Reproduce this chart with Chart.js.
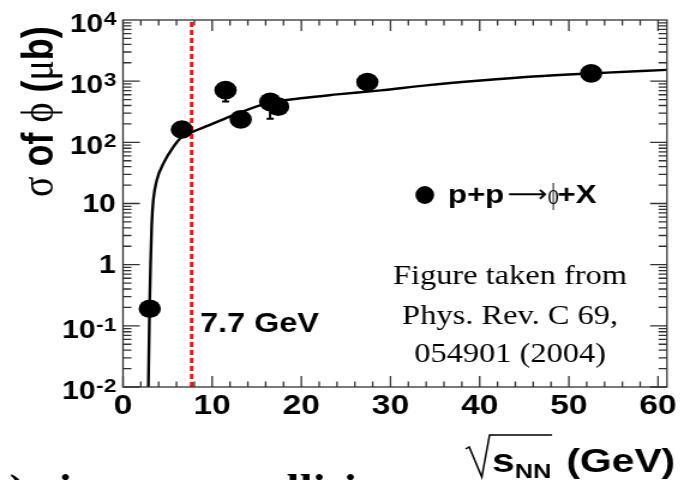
<!DOCTYPE html>
<html>
<head>
<meta charset="utf-8">
<script src="https://cdn.jsdelivr.net/npm/chart.js@4.4.0/dist/chart.umd.min.js"></script>
<style>
  html, body { margin: 0; padding: 0; background: #fff; overflow: hidden; }
  /* the original figure is stretched sideways, so the whole canvas is too */
  #wrap { width: 576px; height: 480px; transform: scaleX(1.2); transform-origin: 0 0; }
</style>
</head>
<body>
<div id="wrap"><canvas id="phiChart" width="576" height="480"></canvas></div>
<script>
// p+p -> phi + X cross section (ub) vs sqrt(s_NN) (GeV)
const ppX = [3.0, 6.6, 11.5, 13.2, 16.5, 17.4, 27.4, 52.5];
const ppY = [0.19, 162, 713, 237, 459, 383, 970, 1340];
const ppErr = [0, 0, 250, 0, 215, 0, 0, 0];

// fit curve
const fitX = [2.84, 2.98, 3.09, 3.22, 3.40, 3.79, 4.53, 5.65, 6.6, 7.75, 10, 12.4, 16.2, 19.9, 24, 28.9, 34, 40.1, 46, 52.5, 61];
const fitY = [0.01, 0.19, 1, 4.5, 11.4, 24.1, 45.2, 84.3, 123, 147, 200, 278, 436, 525, 607, 708, 853, 1023, 1189, 1340, 1530];

const cutEnergy = 7.7;
const xTicks = [0, 10, 20, 30, 40, 50, 60];
const xMinorStep = 2;
const yTickValues = [0.01, 0.1, 1, 10, 100, 1000, 10000];
const yTickLabels = [["10", "-2"], ["10", "-1"], ["1", ""], ["10", ""], ["10", "2"], ["10", "3"], ["10", "4"]];

const SANS = '"Liberation Sans", Arial, sans-serif';
const SERIF = '"Liberation Serif", "DejaVu Serif", serif';

const xy = (xs, ys) => xs.map((x, i) => ({ x: x, y: ys[i] }));

// draw text pieces one after another
const drawRun = (ctx, parts, x, y) => {
  ctx.textAlign = "left";
  ctx.textBaseline = "alphabetic";
  parts.forEach(([txt, font]) => {
    ctx.font = font;
    ctx.fillText(txt, x, y);
    x += ctx.measureText(txt).width;
  });
};

// text squeezed / stretched so its ink spans a given width
const fitText = (ctx, txt, font, x, y, w) => {
  ctx.font = font;
  const m = ctx.measureText(txt);
  const ink = m.actualBoundingBoxLeft + m.actualBoundingBoxRight;
  const k = w / ink;
  ctx.save();
  ctx.translate(x, y);
  ctx.scale(k, 1);
  ctx.textAlign = "left";
  ctx.fillText(txt, m.actualBoundingBoxLeft, 0);
  ctx.restore();
};

const decor = {
  id: "decor",
  beforeDatasetsDraw(chart) {
    const ctx = chart.ctx, xs = chart.scales.x, ys = chart.scales.y;
    ctx.save();
    ctx.strokeStyle = "#000";
    ctx.lineWidth = 2;
    ppX.forEach((x, i) => {
      if (!ppErr[i]) return;
      const px = xs.getPixelForValue(x);
      const lo = ys.getPixelForValue(ppY[i] - ppErr[i]);
      ctx.beginPath();
      ctx.moveTo(px, ys.getPixelForValue(ppY[i]));
      ctx.lineTo(px, lo);
      ctx.moveTo(px - 3, lo);
      ctx.lineTo(px + 3, lo);
      ctx.stroke();
    });
    ctx.restore();
  },
  afterDraw(chart) {
    const ctx = chart.ctx, xs = chart.scales.x, ys = chart.scales.y;
    const { left, right, top, bottom } = chart.chartArea;
    ctx.save();

    // frame + ROOT style ticks on all four sides
    ctx.strokeStyle = "#333";
    ctx.lineWidth = 1.3;
    ctx.strokeRect(left, top, right - left, bottom - top);
    ctx.beginPath();
    for (let v = 0; v <= xs.max; v += xMinorStep) {
      const px = xs.getPixelForValue(v);
      const len = v % 10 === 0 ? 11 : 5.5;
      ctx.moveTo(px, bottom); ctx.lineTo(px, bottom - len);
      ctx.moveTo(px, top); ctx.lineTo(px, top + len);
    }
    for (let d = -2; d <= 3; d++) {
      for (let m = 1; m <= 9; m++) {
        const py = ys.getPixelForValue(m * Math.pow(10, d));
        const len = m === 1 ? 14 : 7;
        ctx.moveTo(left, py); ctx.lineTo(left + len, py);
        ctx.moveTo(right, py); ctx.lineTo(right - len, py);
      }
    }
    ctx.stroke();

    // y tick labels with superscripts
    ctx.fillStyle = "#000";
    const baseFont = "bold 25px " + SANS, supFont = "bold 19px " + SANS;
    yTickValues.forEach((v, i) => {
      const [base, sup] = yTickLabels[i];
      const py = ys.getPixelForValue(v);
      ctx.font = supFont;
      const sw = sup ? ctx.measureText(sup).width : 0;
      const rx = 96.5;
      const by = py + 8.8 + (sup ? 3 : 0);
      ctx.font = baseFont;
      ctx.textAlign = "right";
      ctx.textBaseline = "alphabetic";
      ctx.fillText(base, rx - sw, by);
      if (sup) {
        ctx.font = supFont;
        ctx.textAlign = "left";
        ctx.fillText(sup, rx - sw + 0.5, by - 7);
      }
    });

    // y axis title
    ctx.save();
    ctx.translate(44, 197);
    ctx.rotate(-Math.PI / 2);
    drawRun(ctx, [
      ["σ", "38px " + SERIF], [" of ", "bold 36px " + SANS], ["ϕ", "38px " + SERIF],
      [" (", "bold 36px " + SANS], ["μ", "38px " + SERIF], ["b)", "bold 36px " + SANS]
    ], 0, 0);
    ctx.restore();

    // x axis title: sqrt(s_NN) (GeV)
    ctx.lineWidth = 1.5;
    ctx.strokeStyle = "#000";
    ctx.beginPath();
    ctx.moveTo(388, 449); ctx.lineTo(391, 447); ctx.lineTo(401.5, 477);
    ctx.lineTo(408, 435); ctx.lineTo(460, 435);
    ctx.stroke();
    ctx.textAlign = "left";
    ctx.font = "bold 34px " + SANS;
    ctx.fillText("s", 410, 472);
    ctx.font = "bold 21px " + SANS;
    ctx.fillText("NN", 429, 478);
    ctx.font = "bold 34px " + SANS;
    ctx.fillText("(GeV)", 472, 472);

    // legend
    ctx.beginPath();
    ctx.ellipse(354, 195, 7.8, 9, 0, 0, Math.PI * 2);
    ctx.fill();
    ctx.font = "bold 26px " + SANS;
    ctx.fillText("p+p", 373.3, 203);
    fitText(ctx, "⟶", '24px "DejaVu Sans", sans-serif', 424, 202, 32);
    fitText(ctx, "ϕ", "29px " + SERIF, 456.5, 204, 9);
    ctx.font = "bold 26px " + SANS;
    ctx.fillText("+X", 464.5, 203);

    // notes
    ctx.font = "bold 27px " + SANS;
    ctx.fillText(cutEnergy + " GeV", 166.7, 331.7);
    ctx.font = "27px " + SERIF;
    ctx.textAlign = "center";
    ctx.fillText("Figure taken from", 425, 284);
    ctx.fillText("Phys. Rev. C 69,", 425, 324);
    ctx.fillText("054901 (2004)", 425, 361.7);

    // slide text cut off at the bottom edge
    ctx.font = "bold 39px " + SERIF;
    ctx.textAlign = "right";
    ctx.fillText("σ(ϕ)", 21, 502);
    ctx.textAlign = "left";
    ctx.fillText("in pp", 49, 502);
    ctx.fillText("collisions", 202, 502);
    ctx.restore();
  }
};

window.addEventListener("load", () => {
  const ctx = document.getElementById("phiChart");
  Chart.defaults.font.family = SANS;
  Chart.defaults.color = "#000";

  new Chart(ctx, {
    type: "line",
    data: {
      datasets: [
        {
          label: "p+p→ϕ+X",
          data: xy(ppX, ppY),
          showLine: false,
          pointRadius: 9.3,
          pointHoverRadius: 9.3,
          pointBackgroundColor: "#000",
          pointBorderWidth: 0,
          order: 0,
        },
        {
          label: "7.7 GeV",
          data: [{ x: cutEnergy, y: yTickValues[0] }, { x: cutEnergy, y: yTickValues[yTickValues.length - 1] }],
          borderColor: "#ff1010",
          borderWidth: 3,
          borderDash: [5, 3],
          pointRadius: 0,
          order: 1,
        },
        {
          label: "fit",
          data: xy(fitX, fitY),
          borderColor: "#000",
          borderWidth: 2.4,
          pointRadius: 0,
          cubicInterpolationMode: "monotone",
          order: 2,
        },
      ],
    },
    options: {
      responsive: false,
      animation: false,
      devicePixelRatio: 1,
      layout: { padding: { left: 0, right: 20.2, top: 20, bottom: 0 } },
      plugins: { legend: { display: false }, tooltip: { enabled: false } },
      scales: {
        x: {
          type: "linear",
          min: 0,
          max: 61,
          afterBuildTicks: (s) => { s.ticks = xTicks.map((v) => ({ value: v })); },
          afterFit: (s) => { s.height = 93; },
          grid: { display: false, drawTicks: false },
          border: { display: false },
          ticks: { font: { size: 28, weight: "bold" }, color: "#000", padding: 2, maxRotation: 0, autoSkip: false },
        },
        y: {
          type: "logarithmic",
          min: yTickValues[0],
          max: yTickValues[yTickValues.length - 1],
          afterBuildTicks: (s) => { s.ticks = yTickValues.map((v) => ({ value: v })); },
          afterFit: (s) => { s.width = 102.5; },
          grid: { display: false, drawTicks: false },
          border: { display: false },
          ticks: { display: false },
        },
      },
    },
    plugins: [decor],
  });
});
</script>
</body>
</html>
